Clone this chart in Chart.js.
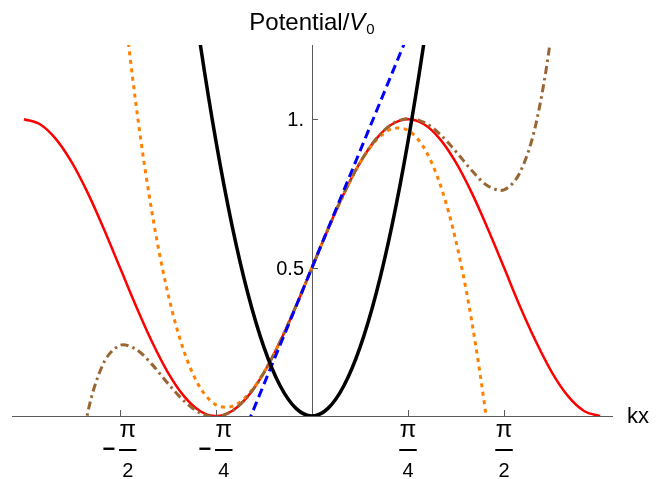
<!DOCTYPE html>
<html>
<head>
<meta charset="utf-8">
<script src="https://cdn.jsdelivr.net/npm/chart.js@4"></script>
<style>
  html, body { margin: 0; padding: 0; background: #fff; }
  canvas { display: block; }
</style>
</head>
<body>
<canvas id="chart" width="665" height="479"></canvas>
<script>
// kx sample positions (steps of pi/24)
const kx = [
  -2.3562, -2.2253, -2.0944, -1.9635, -1.8326, -1.7017, -1.5708, -1.4399, -1.3090,
  -1.1781, -1.0472, -0.9163, -0.7854, -0.6545, -0.5236, -0.3927, -0.2618, -0.1309,
  0,
  0.1309, 0.2618, 0.3927, 0.5236, 0.6545, 0.7854, 0.9163, 1.0472, 1.1781,
  1.3090, 1.4399, 1.5708, 1.6999, 1.8326, 1.9635, 2.0944, 2.2253, 2.3562
]

// full potential (red)
const potential = [
  1, 0.983, 0.933, 0.8536, 0.75, 0.6294, 0.5, 0.3706, 0.25,
  0.1464, 0.067, 0.017, 0, 0.017, 0.067, 0.1464, 0.25, 0.3706,
  0.5,
  0.6294, 0.75, 0.8536, 0.933, 0.983, 1, 0.983, 0.933, 0.8536,
  0.75, 0.6294, 0.5, 0.3706, 0.25, 0.1464, 0.067, 0.017, 0
]

// linear approximation (blue dashed)
const linear = [
  null, null, null, null, null, null, null, null, null,
  null, null, null, null, null, -0.0236, 0.1073, 0.2382, 0.3691,
  0.5,
  0.6309, 0.7618, 0.8927, 1.0236, 1.1545, 1.2854, null, null, null,
  null, null, null, null, null, null, null, null, null
]

// harmonic well (black)
const harmonic = [
  null, null, null, null, null, null, null, null, null,
  null, 1.645, 1.2594, 0.9253, 0.6426, 0.4112, 0.2313, 0.1028, 0.0257,
  0,
  0.0257, 0.1028, 0.2313, 0.4112, 0.6426, 0.9253, 1.2594, 1.645, null,
  null, null, null, null, null, null, null, null, null
]

// third order (orange dotted)
const cubic = [
  null, null, null, null, null, 2.0835, 1.5131, 1.0503, 0.6863,
  0.412, 0.2184, 0.0966, 0.0376, 0.0324, 0.0721, 0.1477, 0.2502, 0.3706,
  0.5,
  0.6294, 0.7498, 0.8523, 0.9279, 0.9676, 0.9624, 0.9034, 0.7816, 0.588,
  0.3137, -0.0503, -0.5131, -1.0835, null, null, null, null, null
]

// fifth order (brown dot-dashed)
const quintic = [
  null, null, -0.8429, -0.3082, 0.0145, 0.1809, 0.238, 0.2251, 0.1739,
  0.1094, 0.0505, 0.0105, -0.0023, 0.0164, 0.0669, 0.1464, 0.25, 0.3706,
  0.5,
  0.6294, 0.75, 0.8536, 0.9332, 0.9836, 1.0023, 0.9896, 0.9495, 0.8906,
  0.8261, 0.7749, 0.762, 0.8192, 0.9855, 1.3082, 1.8429, null, null
]

const xTickValues = [-Math.PI / 2, -Math.PI / 4, Math.PI / 4, Math.PI / 2]
const xTickLabels = ["-π/2", "-π/4", "π/4", "π/2"]
const yTickValues = [0.5, 1]
const yTickLabels = ["0.5", "1."]

const axisColor = "#5a5a5a"
const font = "'Liberation Sans', Arial, sans-serif"

function points(values) {
  const out = []
  values.forEach((v, i) => {
    if (v !== null) out.push({ x: kx[i], y: v })
  })
  return out
}

const axisDecor = {
  id: "axisDecor",
  afterDraw(chart) {
    const ctx = chart.ctx
    const xs = chart.scales.x
    const ys = chart.scales.y
    const x0 = xs.getPixelForValue(0)
    const y0 = ys.getPixelForValue(0)
    ctx.save()

    // tick marks
    ctx.strokeStyle = axisColor
    ctx.lineWidth = 1
    ctx.beginPath()
    xTickValues.forEach(v => {
      const px = Math.round(xs.getPixelForValue(v)) + 0.5
      ctx.moveTo(px, y0)
      ctx.lineTo(px, y0 - 6)
    })
    yTickValues.forEach(v => {
      const py = Math.round(ys.getPixelForValue(v)) + 0.5
      ctx.moveTo(x0, py)
      ctx.lineTo(x0 + 6, py)
    })
    ctx.stroke()

    ctx.fillStyle = "#000"

    // y tick labels
    ctx.font = "20px " + font
    ctx.textAlign = "right"
    ctx.textBaseline = "alphabetic"
    yTickValues.forEach((v, i) => {
      ctx.fillText(yTickLabels[i], x0 - 8, ys.getPixelForValue(v) + 7)
    })

    // x tick labels as stacked fractions
    xTickValues.forEach((v, i) => {
      const px = xs.getPixelForValue(v)
      let label = xTickLabels[i]
      const neg = label.startsWith("-")
      if (neg) label = label.slice(1)
      const [num, den] = label.split("/")
      const barW = 17.5
      const minusW = 11
      const gap = 4.5
      const total = neg ? minusW + gap + barW : barW
      const left = px - total / 2
      const cx = left + total - barW / 2
      if (neg) {
        ctx.font = "bold 22px " + font
        ctx.textAlign = "center"
        ctx.textBaseline = "middle"
        ctx.fillText("−", left + minusW / 2, y0 + 34)
      }
      ctx.textBaseline = "alphabetic"
      ctx.textAlign = "center"
      ctx.font = "24px " + font
      ctx.fillText(num, cx, y0 + 21)
      ctx.fillRect(cx - barW / 2, y0 + 33, barW, 2)
      ctx.font = "20px " + font
      ctx.fillText(den, cx, y0 + 60.5)
    })

    // axis labels
    ctx.textAlign = "left"
    ctx.font = "22px " + font
    ctx.fillText("kx", chart.chartArea.right + 15, y0 + 7)

    const t1 = "Potential/"
    ctx.font = "24px " + font
    const w1 = ctx.measureText(t1).width
    ctx.font = "italic 24px " + font
    const w2 = ctx.measureText("V").width
    ctx.font = "15px " + font
    const w3 = ctx.measureText("0").width
    let tx = x0 - (w1 + w2 + w3 + 1) / 2
    ctx.font = "24px " + font
    ctx.fillText(t1, tx, 30)
    tx += w1
    ctx.font = "italic 24px " + font
    ctx.fillText("V", tx, 30)
    tx += w2 + 1
    ctx.font = "15px " + font
    ctx.fillText("0", tx, 34)

    ctx.restore()
  }
}

const ctx = document.getElementById("chart").getContext("2d")

new Chart(ctx, {
  type: "line",
  data: {
    datasets: [
      {
        label: "harmonic",
        data: points(harmonic),
        borderColor: "#000000",
        borderWidth: 3.5,
        order: 0
      },
      {
        label: "linear",
        data: points(linear),
        borderColor: "#0000ff",
        borderWidth: 3,
        borderDash: [9, 5],
        tension: 0,
        order: 1
      },
      {
        label: "fifth order",
        data: points(quintic),
        borderColor: "#996633",
        borderWidth: 3,
        borderDash: [8, 4, 2.5, 4],
        order: 2
      },
      {
        label: "third order",
        data: points(cubic),
        borderColor: "#ff8000",
        borderWidth: 3,
        borderDash: [4, 4.5],
        order: 3
      },
      {
        label: "potential",
        data: points(potential),
        borderColor: "#ff0000",
        borderWidth: 2.5,
        cubicInterpolationMode: "monotone",
        order: 4
      }
    ]
  },
  options: {
    responsive: false,
    animation: false,
    layout: { padding: { left: 12, right: 53, top: 45, bottom: 63 } },
    elements: {
      point: { radius: 0 },
      line: { tension: 0.33, capBezierPoints: false, fill: false }
    },
    plugins: {
      legend: { display: false },
      tooltip: { enabled: false }
    },
    scales: {
      x: {
        type: "linear",
        min: -2.454,
        max: 2.454,
        position: { y: 0 },
        grid: { display: false },
        ticks: { display: false },
        border: { color: axisColor, width: 1 }
      },
      y: {
        type: "linear",
        min: 0,
        max: 1.25,
        position: { x: 0 },
        grid: { display: false },
        ticks: { display: false },
        border: { color: axisColor, width: 1 }
      }
    }
  },
  plugins: [axisDecor]
})
</script>
</body>
</html>
